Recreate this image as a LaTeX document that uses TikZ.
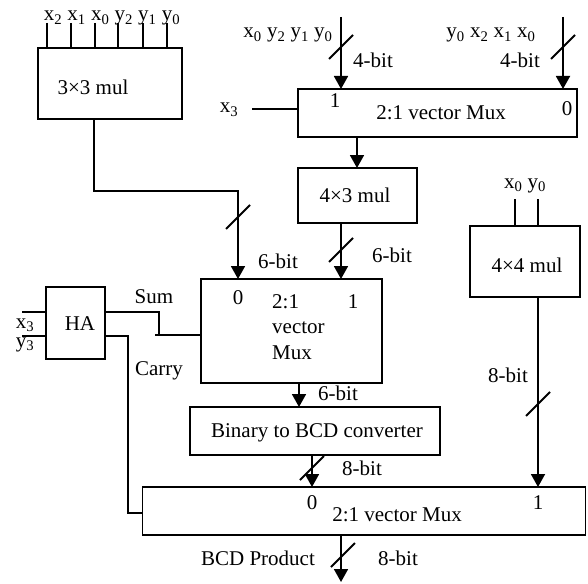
\documentclass[tikz,border=0pt]{standalone}
\usepackage{fontspec}
\setmainfont{Liberation Serif}
\usetikzlibrary{arrows.meta}
\newcommand{\sbs}[1]{\textsubscript{#1}}
\begin{document}
\begin{tikzpicture}[x=1pt,y=-1pt,
  every node/.style={font=\fontsize{21}{24}\selectfont},
  box/.style={draw,line width=1.8pt,inner sep=0pt,outer sep=0pt},
  wire/.style={line width=1.8pt},
  arr/.style={line width=1.8pt,-{Triangle[width=14pt,length=13pt]}},
  lbl/.style={inner sep=0pt,anchor=base},
  slash/.pic={\draw[line width=1.8pt] (-12,12) -- (12,-12);}]
\useasboundingbox (0,0) rectangle (588,583);

% boxes
\node[box,minimum width=144pt,minimum height=71pt] (mul33) at (110,83.5) {};
\node[box,minimum width=279pt,minimum height=48pt] (muxA) at (437.5,113) {};
\node[box,minimum width=119pt,minimum height=55pt] (mul43) at (357.5,195.5) {};
\node[box,minimum width=181pt,minimum height=104pt] (muxB) at (291.5,331) {};
\node[box,minimum width=110pt,minimum height=71pt] (mul44) at (525,261.5) {};
\node[box,minimum width=59pt,minimum height=72pt] (ha) at (75.5,323) {};
\node[box,minimum width=250pt,minimum height=48pt] (bcd) at (315,431) {};
\node[box,minimum width=443pt,minimum height=48pt] (muxC) at (364,511) {};

% texts
\node[lbl] (t1) at (112,21) {x\sbs{2} x\sbs{1} x\sbs{0} y\sbs{2} y\sbs{1} y\sbs{0}};
\node[lbl] (t2) at (93,95) {3×3 mul};
\node[lbl] (t3) at (288,38) {x\sbs{0} y\sbs{2} y\sbs{1} y\sbs{0}};
\node[lbl] (t4) at (491,38) {y\sbs{0} x\sbs{2} x\sbs{1} x\sbs{0}};
\node[lbl] (t5) at (373,68) {4-bit};
\node[lbl] (t6) at (520,68) {4-bit};
\node[lbl] (t7) at (229,113) {x\sbs{3}};
\node[lbl] (t8) at (335,107) {1};
\node[lbl] (t9) at (567,115) {0};
\node[lbl] (t10) at (441,120) {2:1 vector Mux};
\node[lbl] (t11) at (355,202) {4×3 mul};
\node[lbl] (t12) at (392,262) {6-bit};
\node[lbl] (t13) at (525,188) {x\sbs{0} y\sbs{0}};
\node[lbl] (t14) at (527,272) {4×4 mul};
\node[lbl] (t15) at (508,382) {8-bit};
\node[lbl] (t16) at (278,268) {6-bit};
\node[lbl] (t17) at (80,330) {HA};
\node[lbl] (t18) at (25,328) {x\sbs{3}};
\node[lbl] (t19) at (25,347) {y\sbs{3}};
\node[lbl] (t20) at (154,303) {Sum};
\node[lbl] (t21) at (159,375) {Carry};
\node[lbl] (t22) at (238,304) {0};
\node[lbl] (t23) at (353,308) {1};
\node[lbl,anchor=base west] (t24) at (272,308) {2:1};
\node[lbl,anchor=base west] (t25) at (272,333) {vector};
\node[lbl,anchor=base west] (t26) at (272,359) {Mux};
\node[lbl] (t27) at (338,400) {6-bit};
\node[lbl] (t28) at (317,437) {Binary to BCD converter};
\node[lbl] (t29) at (362,475) {8-bit};
\node[lbl] (t30) at (312,509) {0};
\node[lbl] (t31) at (538,509) {1};
\node[lbl] (t32) at (397,521) {2:1 vector Mux};
\node[lbl] (t33) at (258,565) {BCD Product};
\node[lbl] (t34) at (398,565) {8-bit};

% inputs of 3x3 mul
\foreach \i/\xx in {1/47,2/71,3/95,4/118,5/143,6/167}{
  \coordinate (p\i) at (\xx,23);
  \draw[wire] (p\i) -- (p\i |- mul33.north);
}
% inputs of 4x4 mul
\coordinate (q1) at (515,199);
\coordinate (q2) at (538,199);
\draw[wire] (q1) -- (q1 |- mul44.north);
\draw[wire] (q2) -- (q2 |- mul44.north);

% top mux inputs
\coordinate (a1) at (341,17);
\coordinate (a0) at (563,17);
\draw[arr] (a1) -- (a1 |- muxA.north);
\draw[arr] (a0) -- (a0 |- muxA.north);
\pic at (341,47) {slash};
\pic at (563,47) {slash};
\coordinate (x3a) at (252,109);
\draw[wire] (x3a) -- (x3a -| muxA.west);

% top mux -> 4x3 mul
\coordinate (c1) at (357,0);
\draw[arr] (c1 |- muxA.south) -- (c1 |- mul43.north);

% 3x3 mul -> middle mux
\coordinate (m33o) at (94,191);
\coordinate (m33b) at (238,191);
\draw[arr] (m33o |- mul33.south) -- (m33o) -- (m33b) -- (m33b |- muxB.north);
\pic at (238,217) {slash};

% 4x3 mul -> middle mux
\coordinate (c2) at (341,0);
\draw[arr] (c2 |- mul43.south) -- (c2 |- muxB.north);
\pic at (341,250) {slash};

% HA wires
\coordinate (x3in) at (22,312);
\coordinate (y3in) at (22,336);
\draw[wire] (x3in) -- (x3in -| ha.west);
\draw[wire] (y3in) -- (y3in -| ha.west);
\coordinate (sumjog) at (159,312);
\coordinate (sumlow) at (155,335);
\draw[wire] (sumjog -| ha.east) -- (sumjog) -- (sumjog |- sumlow);
\draw[wire] (sumlow) -- (sumlow -| muxB.west);
\coordinate (carry) at (128,336);
\coordinate (sel) at (128,513);
\draw[wire] (carry -| ha.east) -- (carry) -- (sel) -- (sel -| muxC.west);

% middle mux -> bcd
\coordinate (c3) at (299,0);
\draw[arr] (c3 |- muxB.south) -- (c3 |- bcd.north);

% bcd -> final mux
\coordinate (c4) at (312,0);
\draw[arr] (c4 |- bcd.south) -- (c4 |- muxC.north);
\pic at (312,468) {slash};

% 4x4 mul -> final mux
\draw[arr] (q2 |- mul44.south) -- (q2 |- muxC.north);
\pic at (538,404) {slash};

% output
\coordinate (out) at (341,582);
\draw[arr] (out |- muxC.south) -- (out);
\pic at (343,555) {slash};
\end{tikzpicture}
\end{document}
